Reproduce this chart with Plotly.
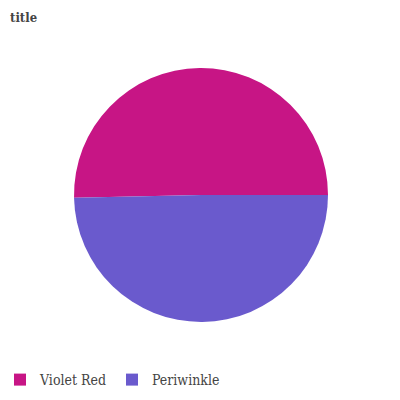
import plotly.graph_objects as go

labels = ["Violet Red", "Periwinkle"]
values = [50.34, 49.66]
colors = ["#C71585", "#6A5ACD"]

# first slice (counterclockwise) starts at 3 o'clock
first_share = values[0] / sum(values)
rotation = 90 - 360 * first_share

fig = go.Figure(go.Pie(
    labels=labels, values=values, sort=False,
    direction="counterclockwise", rotation=rotation,
    marker=dict(colors=colors, line=dict(width=0)),
    textinfo="none", hoverinfo="label+percent",
    domain=dict(x=[0.185, 0.82], y=[0.195, 0.83]),
))
fig.update_layout(
    width=400, height=400,
    margin=dict(l=0, r=0, t=0, b=0),
    paper_bgcolor="white",
    font=dict(family="DejaVu Serif Condensed, DejaVu Serif", color="#444"),
    title=dict(text="<b>title</b>", x=0.025, y=0.957, xanchor="left", yanchor="middle",
               font=dict(size=13, family="DejaVu Serif Condensed, DejaVu Serif", color="#444")),
    legend=dict(orientation="h", x=0.0, y=0.05, xanchor="left", yanchor="middle",
                font=dict(size=14, family="DejaVu Serif Condensed, DejaVu Serif", color="#444")),
)
fig.write_html("out.html")
